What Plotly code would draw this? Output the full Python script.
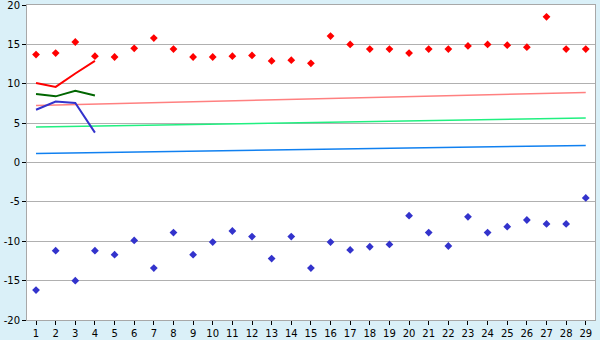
import plotly.graph_objects as go

x_days = list(range(1, 30))
tick_labels = [str(i) for i in x_days]
y_ticks = [-20, -15, -10, -5, 0, 5, 10, 15, 20]
y_tick_labels = ["-20", "-15", "-10", "-5", "0", "5", "10", "15", "20"]

red_points = [13.7, 13.9, 15.3, 13.5, 13.4, 14.5, 15.8, 14.4, 13.4, 13.4,
              13.5, 13.6, 12.9, 13.0, 12.6, 16.05, 15.0, 14.4, 14.4, 13.9,
              14.4, 14.4, 14.8, 15.0, 14.9, 14.65, 18.5, 14.4, 14.4]
blue_points = [-16.2, -11.2, -15.0, -11.2, -11.7, -9.9, -13.4, -8.9, -11.7, -10.1,
               -8.7, -9.4, -12.2, -9.4, -13.4, -10.1, -11.1, -10.7, -10.4, -6.75,
               -8.9, -10.6, -6.9, -8.9, -8.15, -7.3, -7.8, -7.8, -4.5]

short_x = [1, 2, 3, 4]
red_line = [10.1, 9.6, 11.3, 12.9]
green_line = [8.7, 8.4, 9.1, 8.5]
blue_line = [6.7, 7.75, 7.55, 3.8]

trend_x = [1, 29]
pink_trend = [7.25, 8.9]
green_trend = [4.5, 5.65]
blue_trend = [1.15, 2.17]

fig = go.Figure()

fig.add_trace(go.Scatter(x=trend_x, y=pink_trend, mode="lines",
                         line=dict(color="#FF8080", width=1.5)))
fig.add_trace(go.Scatter(x=trend_x, y=green_trend, mode="lines",
                         line=dict(color="#20F080", width=1.5)))
fig.add_trace(go.Scatter(x=trend_x, y=blue_trend, mode="lines",
                         line=dict(color="#1080F0", width=1.5)))

fig.add_trace(go.Scatter(x=short_x, y=red_line, mode="lines",
                         line=dict(color="#FF0000", width=2)))
fig.add_trace(go.Scatter(x=short_x, y=green_line, mode="lines",
                         line=dict(color="#006600", width=2)))
fig.add_trace(go.Scatter(x=short_x, y=blue_line, mode="lines",
                         line=dict(color="#3333CC", width=2)))

fig.add_trace(go.Scatter(x=x_days, y=red_points, mode="markers",
                         marker=dict(symbol="diamond", size=6, color="#FF0000")))
fig.add_trace(go.Scatter(x=x_days, y=blue_points, mode="markers",
                         marker=dict(symbol="diamond", size=6, color="#3333CC")))

fig.update_layout(
    width=600, height=340,
    margin=dict(l=27, r=5, t=5, b=20, autoexpand=False),
    paper_bgcolor="#DAF0F8",
    plot_bgcolor="#FFFFFF",
    showlegend=False,
    font=dict(family="DejaVu Sans", size=10, color="#000000"),
)
fig.update_xaxes(
    range=[0.54, 29.47], tickmode="array", tickvals=x_days, ticktext=tick_labels,
    showgrid=False, zeroline=False, showline=True, linecolor="#A8A8A8", linewidth=1,
    mirror=True, ticks="outside", ticklen=4, tickcolor="#000000", automargin=False,
    ticklabeloverflow="allow",
)
fig.update_yaxes(
    range=[-20, 20.0001], tickmode="array", tickvals=y_ticks, ticktext=y_tick_labels,
    showgrid=True, gridcolor="#B0B0B0", gridwidth=1,
    zeroline=False, showline=True, linecolor="#A8A8A8", linewidth=1, mirror=True,
    ticks="outside", ticklen=4, tickcolor="#000000", automargin=False,
    ticklabeloverflow="allow",
)

fig.write_html("out.html")
